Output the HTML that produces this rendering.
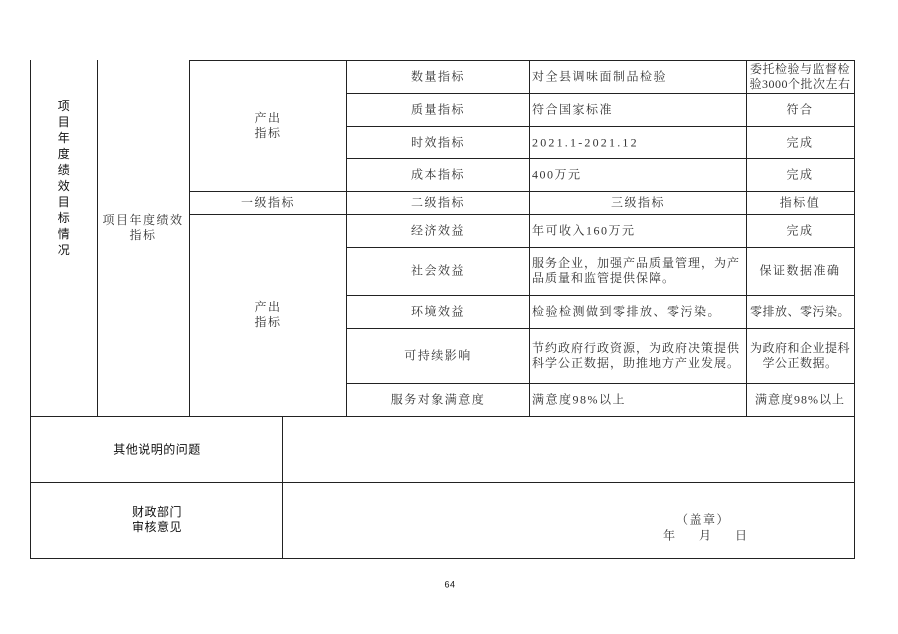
<!DOCTYPE html>
<html><head><meta charset="utf-8"><style>
body{margin:0;width:898px;height:634px;background:#fff;position:relative;overflow:hidden}
.h,.v{position:absolute;background:#222}
.h{height:1px}.v{width:1px}
.t{position:absolute;font-family:"Liberation Serif","Noto Serif CJK SC",serif;font-size:12px;color:#333;line-height:15px;letter-spacing:1.5px;white-space:nowrap}
.c{text-align:center;transform:translate(-50%,-50%)}
.l{transform:translateY(-50%)}
.s{font-family:"Liberation Sans","Noto Sans CJK SC",sans-serif;color:#111;letter-spacing:0.5px}
</style></head><body>
<div class="v" style="left:30px;top:60px;height:499px"></div>
<div class="v" style="left:97px;top:60px;height:357px"></div>
<div class="v" style="left:189px;top:60px;height:357px"></div>
<div class="v" style="left:346px;top:60px;height:357px"></div>
<div class="v" style="left:529px;top:60px;height:357px"></div>
<div class="v" style="left:746px;top:60px;height:357px"></div>
<div class="v" style="left:854px;top:60px;height:499px"></div>
<div class="v" style="left:282px;top:416px;height:143px"></div>
<div class="h" style="left:189px;top:60px;width:666px"></div>
<div class="h" style="left:346px;top:93px;width:509px"></div>
<div class="h" style="left:346px;top:126px;width:509px"></div>
<div class="h" style="left:346px;top:158px;width:509px"></div>
<div class="h" style="left:189px;top:191px;width:666px"></div>
<div class="h" style="left:189px;top:214px;width:666px"></div>
<div class="h" style="left:346px;top:247px;width:509px"></div>
<div class="h" style="left:346px;top:295px;width:509px"></div>
<div class="h" style="left:346px;top:328px;width:509px"></div>
<div class="h" style="left:346px;top:383px;width:509px"></div>
<div class="h" style="left:30px;top:416px;width:825px"></div>
<div class="h" style="left:30px;top:482px;width:825px"></div>
<div class="h" style="left:30px;top:558px;width:825px"></div>

<div class="t c s" style="left:64px;top:178px;white-space:normal;width:14px;line-height:16px">项目年度绩效目标情况</div>
<div class="t c" style="left:143px;top:228px;text-align:center">项目年度绩效<br>指标</div>
<div class="t c" style="left:268px;top:126px">产出<br>指标</div>
<div class="t c" style="left:268px;top:203px">一级指标</div>
<div class="t c" style="left:268px;top:315px">产出<br>指标</div>

<div class="t c" style="left:438px;top:77px">数量指标</div>
<div class="t c" style="left:438px;top:110px">质量指标</div>
<div class="t c" style="left:438px;top:143px">时效指标</div>
<div class="t c" style="left:438px;top:175px">成本指标</div>
<div class="t c" style="left:438px;top:203px">二级指标</div>
<div class="t c" style="left:438px;top:231px">经济效益</div>
<div class="t c" style="left:438px;top:271px">社会效益</div>
<div class="t c" style="left:438px;top:312px">环境效益</div>
<div class="t c" style="left:438px;top:356px">可持续影响</div>
<div class="t c" style="left:438px;top:400px">服务对象满意度</div>

<div class="t l" style="left:532px;top:77px">对全县调味面制品检验</div>
<div class="t l" style="left:532px;top:110px">符合国家标准</div>
<div class="t l" style="left:532px;top:143px;letter-spacing:2.2px">2021.1-2021.12</div>
<div class="t l" style="left:532px;top:175px">400万元</div>
<div class="t c" style="left:638px;top:203px">三级指标</div>
<div class="t l" style="left:532px;top:231px">年可收入160万元</div>
<div class="t l" style="left:532px;top:271px;letter-spacing:1px">服务企业，加强产品质量管理，为产<br>品质量和监管提供保障。</div>
<div class="t l" style="left:532px;top:312px">检验检测做到零排放、零污染。</div>
<div class="t l" style="left:532px;top:356px;letter-spacing:1px">节约政府行政资源，为政府决策提供<br>科学公正数据，助推地方产业发展。</div>
<div class="t l" style="left:532px;top:400px">满意度98%以上</div>

<div class="t c" style="left:800px;top:77px;letter-spacing:0.5px">委托检验与监督检<br>验3000个批次左右</div>
<div class="t c" style="left:800px;top:110px">符合</div>
<div class="t c" style="left:800px;top:143px">完成</div>
<div class="t c" style="left:800px;top:175px">完成</div>
<div class="t c" style="left:800px;top:203px">指标值</div>
<div class="t c" style="left:800px;top:231px">完成</div>
<div class="t c" style="left:800px;top:271px">保证数据准确</div>
<div class="t c" style="left:800px;top:312px;letter-spacing:0.5px">零排放、零污染。</div>
<div class="t c" style="left:800px;top:356px;letter-spacing:0.5px">为政府和企业提科<br>学公正数据。</div>
<div class="t c" style="left:800px;top:400px;letter-spacing:1px">满意度98%以上</div>

<div class="t c s" style="left:157px;top:450px">其他说明的问题</div>
<div class="t c s" style="left:157px;top:520px;text-align:center">财政部门<br>审核意见</div>
<div class="t c" style="left:703px;top:520px">（盖章）</div>
<div class="t l" style="left:663px;top:536px;letter-spacing:0">年&nbsp;&nbsp;&nbsp;&nbsp;&nbsp;&nbsp;&nbsp;&nbsp;月&nbsp;&nbsp;&nbsp;&nbsp;&nbsp;&nbsp;&nbsp;&nbsp;日</div>
<div class="t c s" style="left:450px;top:585px;font-size:9px">64</div>
</body></html>
